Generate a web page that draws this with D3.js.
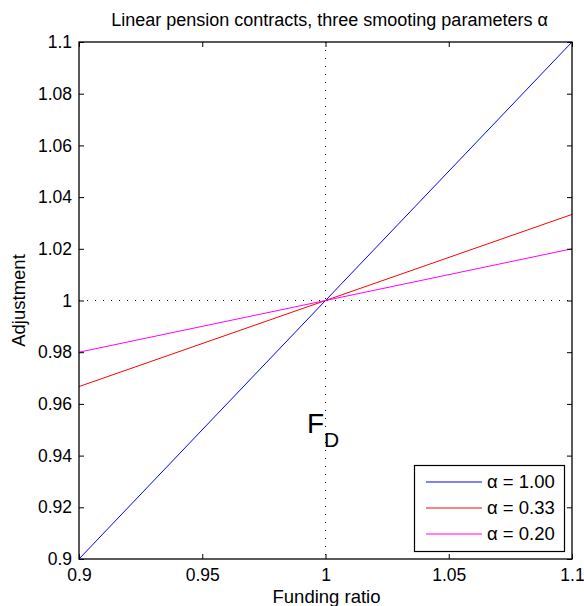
<!DOCTYPE html>
<html>
<head>
<meta charset="utf-8">
<script src="https://cdn.jsdelivr.net/npm/d3@7"></script>
<style>
  html, body { margin: 0; padding: 0; background: #fff; }
  svg { display: block; font-family: "Liberation Sans", Arial, Helvetica, sans-serif; }
</style>
</head>
<body>
<svg id="chart" width="584" height="606"></svg>
<script>
// Funding ratio grid and the adjustment for each smoothing parameter
const fundingRatio = [0.9, 1.0, 1.1];
const adjAlpha100 = [0.9, 1.0, 1.1];
const adjAlpha033 = [0.9667, 1.0, 1.0333];
const adjAlpha020 = [0.98, 1.0, 1.02];

const seriesNames = ["\u03b1 = 1.00", "\u03b1 = 0.33", "\u03b1 = 0.20"];
const seriesValues = [adjAlpha100, adjAlpha033, adjAlpha020];
const seriesColors = ["#0000ff", "#ff0000", "#ff00ff"];

const xTicks = [0.9, 0.95, 1.0, 1.05, 1.1];
const xTickLabels = ["0.9", "0.95", "1", "1.05", "1.1"];
const yTicks = [0.9, 0.92, 0.94, 0.96, 0.98, 1.0, 1.02, 1.04, 1.06, 1.08, 1.1];
const yTickLabels = ["0.9", "0.92", "0.94", "0.96", "0.98", "1", "1.02", "1.04", "1.06", "1.08", "1.1"];

const svg = d3.select("#chart");
const plot = { left: 79, top: 42, right: 572, bottom: 559 };

const x = d3.scaleLinear().domain([0.9, 1.1]).range([plot.left, plot.right]);
const y = d3.scaleLinear().domain([0.9, 1.1]).range([plot.bottom, plot.top]);

const g = svg.append("g");

// Reference lines at the target funding ratio and unit adjustment
g.append("line")
  .attr("x1", x(1)).attr("x2", x(1))
  .attr("y1", plot.top).attr("y2", plot.bottom)
  .attr("stroke", "#000").attr("stroke-width", 1)
  .attr("stroke-dasharray", "1,7");
g.append("line")
  .attr("x1", plot.left).attr("x2", plot.right)
  .attr("y1", y(1)).attr("y2", y(1))
  .attr("stroke", "#000").attr("stroke-width", 1)
  .attr("stroke-dasharray", "1,7");

// Adjustment lines
const line = d3.line().x((d, i) => x(fundingRatio[i])).y(d => y(d));
seriesValues.forEach((vals, k) => {
  g.append("path")
    .attr("d", line(vals))
    .attr("fill", "none")
    .attr("stroke", seriesColors[k])
    .attr("stroke-width", 1);
});

// Axes with inward ticks on all four sides
const tickLen = 5;
const xBottom = d3.axisBottom(x).tickValues(xTicks).tickSize(-tickLen)
  .tickFormat((d, i) => xTickLabels[i]).tickPadding(10);
const xTop = d3.axisTop(x).tickValues(xTicks).tickSize(-tickLen).tickFormat("");
const yLeft = d3.axisLeft(y).tickValues(yTicks).tickSize(-tickLen)
  .tickFormat((d, i) => yTickLabels[i]).tickPadding(7);
const yRight = d3.axisRight(y).tickValues(yTicks).tickSize(-tickLen).tickFormat("");

function styleAxis(sel) {
  sel.select(".domain").remove();
  sel.selectAll(".tick line").attr("stroke", "#000").attr("stroke-width", 1);
  sel.selectAll(".tick text").attr("fill", "#000").style("font-size", "17.5px")
    .style("font-family", "'Liberation Sans', Arial, sans-serif");
}

g.append("g").attr("transform", `translate(0,${plot.bottom})`).call(xBottom).call(styleAxis);
g.append("g").attr("transform", `translate(0,${plot.top})`).call(xTop).call(styleAxis);
g.append("g").attr("transform", `translate(${plot.left},0)`).call(yLeft).call(styleAxis);
g.append("g").attr("transform", `translate(${plot.right},0)`).call(yRight).call(styleAxis);

// Frame
g.append("rect")
  .attr("x", plot.left).attr("y", plot.top)
  .attr("width", plot.right - plot.left).attr("height", plot.bottom - plot.top)
  .attr("fill", "none").attr("stroke", "#000").attr("stroke-width", 1.3);

// F_D annotation
const fd = g.append("text")
  .attr("x", 307).attr("y", 433)
  .attr("fill", "#000").style("font-size", "28px");
fd.append("tspan").text("F");
fd.append("tspan").attr("dy", 14).style("font-size", "21px").text("D");

// Legend
const leg = g.append("g");
leg.append("rect")
  .attr("x", 414.5).attr("y", 465.5).attr("width", 150).attr("height", 86)
  .attr("fill", "#fff").attr("stroke", "#000").attr("stroke-width", 1.2);
const legY = [482, 508, 534];
seriesNames.forEach((name, k) => {
  leg.append("line")
    .attr("x1", 426).attr("x2", 482)
    .attr("y1", legY[k]).attr("y2", legY[k])
    .attr("stroke", seriesColors[k]).attr("stroke-width", 1);
  leg.append("text")
    .attr("x", 487).attr("y", legY[k]).attr("dy", "0.35em")
    .attr("fill", "#000").style("font-size", "18.5px")
    .text(name);
});

// Titles
svg.append("text")
  .attr("x", (plot.left + plot.right) / 2 + 4).attr("y", 26)
  .attr("text-anchor", "middle").attr("fill", "#000").style("font-size", "18px")
  .text("Linear pension contracts, three smooting parameters \u03b1");

svg.append("text")
  .attr("x", (plot.left + plot.right) / 2 + 1).attr("y", 603)
  .attr("text-anchor", "middle").attr("fill", "#000").style("font-size", "18.5px")
  .text("Funding ratio");

svg.append("text")
  .attr("transform", `translate(25,${(plot.top + plot.bottom) / 2}) rotate(-90)`)
  .attr("text-anchor", "middle").attr("fill", "#000").style("font-size", "18.5px")
  .text("Adjustment");
</script>
</body>
</html>
